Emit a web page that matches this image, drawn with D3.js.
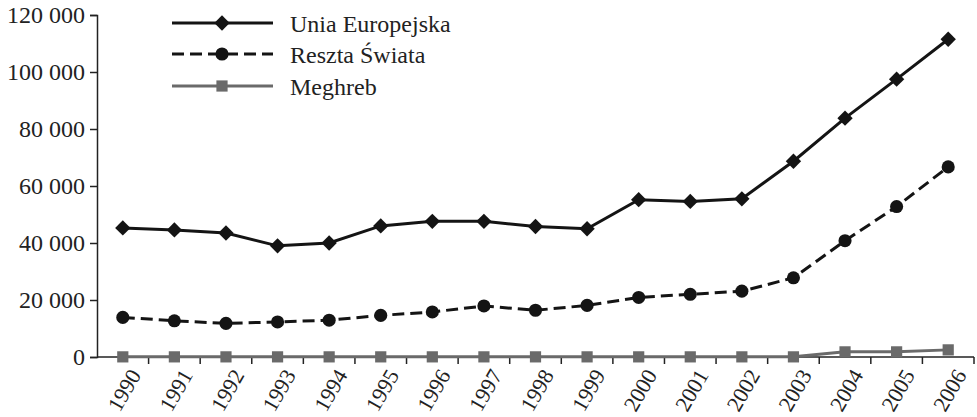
<!DOCTYPE html>
<html>
<head>
<meta charset="utf-8">
<script src="https://cdn.jsdelivr.net/npm/d3@7"></script>
<style>
  body { margin: 0; background: #fff; }
</style>
</head>
<body>
<svg id="canvas" width="977" height="417"></svg>
<script>
const years = ['1990', '1991', '1992', '1993', '1994', '1995', '1996', '1997', '1998',
    '1999', '2000', '2001', '2002', '2003', '2004', '2005', '2006']
const uniaEuropejska = [45300, 44600, 43500, 39000, 40000, 46000, 47600, 47600, 45800,
    45000, 55200, 54600, 55500, 68700, 83800, 97500, 111500]
const resztaSwiata = [13900, 12700, 11800, 12300, 12900, 14600, 15800, 17900, 16400,
    18100, 20900, 22000, 23100, 27800, 40800, 52800, 66700]
const meghreb = [50, 50, 50, 50, 50, 50, 50, 50, 50,
    50, 50, 50, 50, 50, 1800, 1800, 2500]
const yTicks = [0, 20000, 40000, 60000, 80000, 100000, 120000]

const FONT = '"Liberation Serif", "Times New Roman", serif'

const seriesList = [
    { name: 'Unia Europejska', values: uniaEuropejska, color: '#141414', dash: null, symbol: d3.symbolDiamond2, size: 150 },
    { name: 'Reszta Świata', values: resztaSwiata, color: '#141414', dash: '12,6', symbol: d3.symbolCircle, size: 135 },
    { name: 'Meghreb', values: meghreb, color: '#6a6a6a', dash: null, symbol: d3.symbolSquare2, size: 160 }
]

let canvas = d3.select('#canvas').style('font-family', FONT)

let x = d3.scaleBand().domain(years).range([97, 974])
let y = d3.scaleLinear().domain([0, 120000]).range([357, 15])

let fmt = (v) => d3.format(',')(v).replace(/,/g, ' ')

// y axis
let yAxis = canvas.append('g')
    .attr('transform', 'translate(97,0)')
    .call(d3.axisLeft(y).tickValues(yTicks).tickFormat(fmt).tickSizeOuter(0).tickSize(7).tickPadding(5))
yAxis.attr('font-family', null).attr('font-size', null)
yAxis.select('.domain').attr('stroke', '#222').attr('stroke-width', 1.5)
yAxis.selectAll('.tick line').attr('stroke', '#222').attr('stroke-width', 1.5)
yAxis.selectAll('text')
    .style('font-family', FONT)
    .style('font-size', '24px')
    .attr('fill', '#222')

// x axis with ticks between the categories
let xAxis = canvas.append('g')
    .attr('transform', 'translate(0,357)')
xAxis.append('line')
    .attr('x1', 97).attr('x2', 974)
    .attr('stroke', '#222').attr('stroke-width', 1.5)
xAxis.selectAll('.tk')
    .data(years)
    .enter()
    .append('line')
    .attr('x1', (d) => x(d) + x.bandwidth())
    .attr('x2', (d) => x(d) + x.bandwidth())
    .attr('y1', 0).attr('y2', 7)
    .attr('stroke', '#222').attr('stroke-width', 1.5)
xAxis.selectAll('.lbl')
    .data(years)
    .enter()
    .append('text')
    .attr('transform', (d) => 'translate(' + (x(d) + x.bandwidth() / 2 + 19) + ',18) rotate(-60)')
    .attr('text-anchor', 'end')
    .style('font-family', FONT)
    .style('font-size', '22px')
    .attr('fill', '#222')
    .text((d) => d)

let cx = (i) => x(years[i]) + x.bandwidth() / 2

let line = d3.line()
    .x((d, i) => cx(i))
    .y((d) => y(d))

seriesList.slice().reverse().forEach((s) => {
    canvas.append('path')
        .datum(s.values)
        .attr('d', line)
        .attr('fill', 'none')
        .attr('stroke', s.color)
        .attr('stroke-width', 3)
        .attr('stroke-dasharray', s.dash)
    canvas.selectAll('.m-' + s.name.length)
        .data(s.values)
        .enter()
        .append('path')
        .attr('d', d3.symbol().type(s.symbol).size(s.size))
        .attr('transform', (d, i) => 'translate(' + cx(i) + ',' + y(d) + ')')
        .attr('fill', s.color)
})

// legend
let legend = canvas.append('g')
let rowY = [23, 54, 86]
seriesList.forEach((s, i) => {
    let g = legend.append('g').attr('transform', 'translate(0,' + rowY[i] + ')')
    g.append('line')
        .attr('x1', 172).attr('x2', 273)
        .attr('stroke', s.color).attr('stroke-width', 3)
        .attr('stroke-dasharray', s.dash)
    g.append('path')
        .attr('d', d3.symbol().type(s.symbol).size(s.size))
        .attr('transform', 'translate(222,0)')
        .attr('fill', s.color)
    g.append('text')
        .attr('x', 290)
        .attr('y', 9)
        .style('font-family', FONT)
        .style('font-size', '24px')
        .attr('fill', '#222')
        .text(s.name)
})
</script>
</body>
</html>
